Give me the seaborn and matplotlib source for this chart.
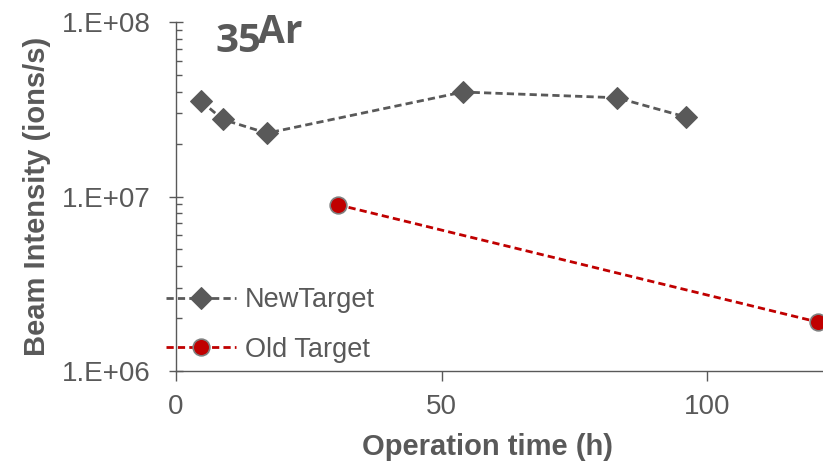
import numpy as np
import pandas as pd
import seaborn as sns
import matplotlib.pyplot as plt
from matplotlib.ticker import FixedLocator, FixedFormatter, LogLocator, NullFormatter

# data
new_hours = [4.7, 8.8, 17.1, 54.0, 83.0, 96.0]
new_intensity = [3.53e7, 2.77e7, 2.31e7, 3.98e7, 3.69e7, 2.86e7]
old_hours = [30.4, 120.9]
old_intensity = [8.98e6, 1.90e6]

y_ticks = [1e6, 1e7, 1e8]
y_tick_labels = ["1.E+06", "1.E+07", "1.E+08"]
x_ticks = [0, 50, 100]

grey = "#595959"
red = "#C00000"

sns.set_style("ticks")
plt.rcParams['font.family'] = ['Liberation Sans', 'DejaVu Sans']

fig = plt.figure(figsize=(8.23, 4.66), dpi=100)
ax = fig.add_axes([0.2139, 0.2045, 0.7861, 0.7476])

new_df = pd.DataFrame({"hours": new_hours, "intensity": new_intensity})
old_df = pd.DataFrame({"hours": old_hours, "intensity": old_intensity})

dash = (0, (2.6, 1.5))
sns.lineplot(data=new_df, x="hours", y="intensity", ax=ax, color=grey,
             marker="D", markersize=11.5, markeredgecolor=grey, markerfacecolor=grey,
             linewidth=2.0, linestyle=dash, label="NewTarget",
             clip_on=False, sort=False)
sns.lineplot(data=old_df, x="hours", y="intensity", ax=ax, color=red,
             marker="o", markersize=12, markeredgecolor="#7f7f7f", markeredgewidth=1.2,
             markerfacecolor=red, linewidth=2.0, linestyle=dash,
             label="Old Target", clip_on=False, sort=False)

ax.set_yscale("log")
ax.set_ylim(1e6, 1e8)
ax.set_xlim(0, 121.8)

ax.yaxis.set_major_locator(FixedLocator(y_ticks))
ax.yaxis.set_major_formatter(FixedFormatter(y_tick_labels))
ax.yaxis.set_minor_locator(LogLocator(base=10, subs=np.arange(2, 10)))
ax.yaxis.set_minor_formatter(NullFormatter())
ax.set_xticks(x_ticks)

ax.tick_params(axis="y", which="major", direction="inout", length=10, width=1,
               color=grey, labelsize=20, labelcolor=grey, pad=13)
ax.tick_params(axis="y", which="minor", direction="in", length=4.5, width=1, color=grey)
ax.tick_params(axis="x", which="major", direction="out", length=7, width=1,
               color=grey, labelsize=20, labelcolor=grey, pad=10)

for s in ["top", "right"]:
    ax.spines[s].set_visible(False)
for s in ["left", "bottom"]:
    ax.spines[s].set_color(grey)
    ax.spines[s].set_linewidth(1)

ax.set_xlabel("Operation time (h)", fontsize=21, fontweight="bold", color=grey)
ax.xaxis.set_label_coords(0.482, -0.178)
ax.set_ylabel("Beam Intensity (ions/s)", fontsize=21, fontweight="bold", color=grey, labelpad=8)

fig.text(215 / 823, 1 - 52 / 466, "35", fontsize=29, fontweight="bold", color=grey,
         family=["Open Sans", "DejaVu Sans"], ha="left", va="baseline")
fig.text(258 / 823, 1 - 43 / 466, "Ar", fontsize=28, fontweight="bold", color=grey,
         family=["Open Sans", "DejaVu Sans"], ha="left", va="baseline")

leg = ax.legend(loc="center left", bbox_to_anchor=(166 / 823, 1 - 325 / 466),
                bbox_transform=fig.transFigure, frameon=False, fontsize=19.5,
                handlelength=2.6, handletextpad=0.3, labelspacing=0.85,
                borderaxespad=0, borderpad=0)
for t in leg.get_texts():
    t.set_color(grey)

fig.savefig("out.png", dpi=100)
